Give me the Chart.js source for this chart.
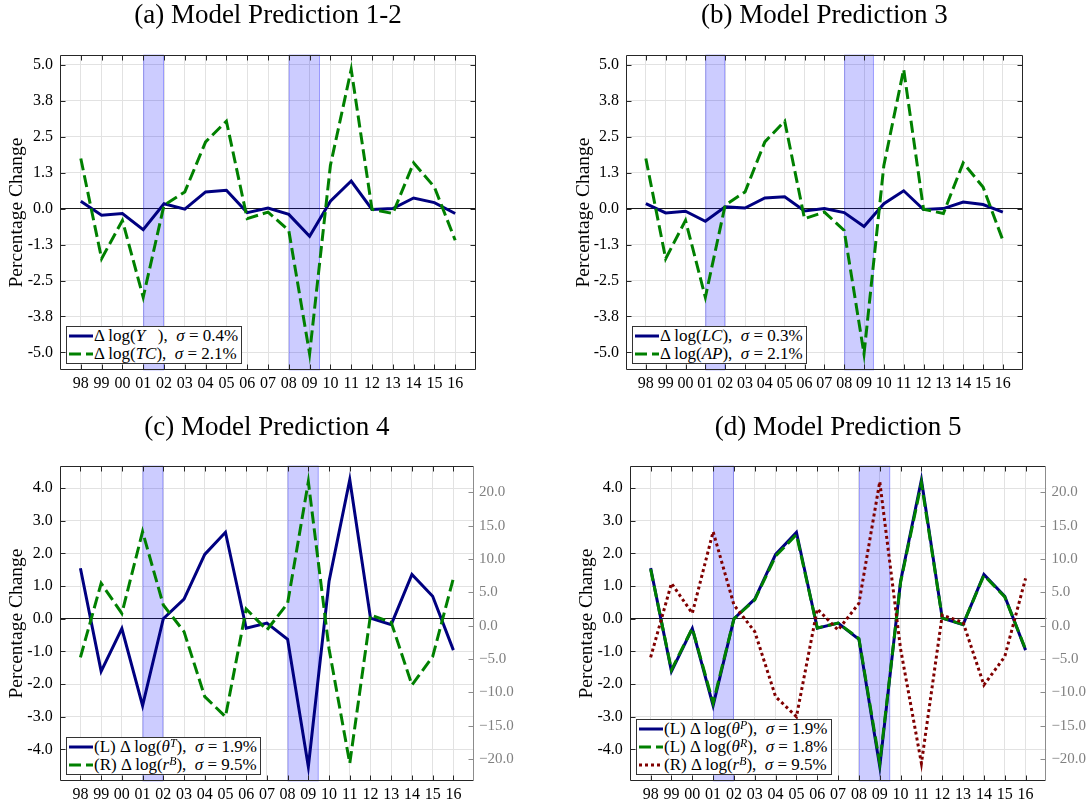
<!DOCTYPE html>
<html>
<head>
<meta charset="utf-8">
<script src="https://cdn.jsdelivr.net/npm/chart.js@4.4.1/dist/chart.umd.min.js"></script>
<style>
  html, body { margin: 0; padding: 0; background: #fff; }
  #fig { position: relative; width: 1088px; height: 805px; overflow: hidden; }
  #fig canvas { position: absolute; }
  .legend { position: absolute; background: #fff; border: 1px solid #333; padding: 0 3px 0 2px;
    font-family: 'Liberation Serif', serif; font-size: 17px; white-space: nowrap; color: #000; }
  .legend .row { display: flex; align-items: center; height: 18px; line-height: 18px; }
  .legend svg { margin-right: 1px; }
  .legend sup { font-size: 70%; line-height: 0; position: relative; top: -0.45em; vertical-align: baseline; }
</style>
</head>
<body>
<div id="fig">
  <canvas id="pa" width="544" height="402" style="left:0;top:0"></canvas>
  <canvas id="pb" width="544" height="402" style="left:544px;top:0"></canvas>
  <canvas id="pc" width="544" height="403" style="left:0;top:402px"></canvas>
  <canvas id="pd" width="544" height="403" style="left:544px;top:402px"></canvas>
</div>
<script>
// years on the x axis (1998 .. 2016)
const years = ['98','99','00','01','02','03','04','05','06','07','08','09','10','11','12','13','14','15','16'];
const firstYear = 1998;
// shaded recession periods
const recessions = [[2001, 2002], [2008, 2009.5]];

// (a)
const dlogY  = [0.26,-0.23,-0.17,-0.73,0.17,-0.02,0.58,0.64,-0.14,0.02,-0.20,-0.96,0.26,0.96,-0.03,0.00,0.37,0.21,-0.17];
const dlogTC = [1.74,-1.74,-0.41,-3.08,0.12,0.58,2.32,3.04,-0.35,-0.12,-0.76,-5.05,1.50,4.84,-0.02,-0.17,1.59,0.75,-1.10];
// (b)
const dlogLC = [0.17,-0.15,-0.09,-0.44,0.06,0.02,0.37,0.41,-0.08,0.00,-0.14,-0.62,0.17,0.62,-0.03,0.00,0.23,0.14,-0.12];
const dlogAP = [1.74,-1.74,-0.41,-3.08,0.12,0.58,2.32,3.04,-0.35,-0.12,-0.76,-5.05,1.50,4.84,-0.02,-0.17,1.59,0.75,-1.10];
// (c) and (d)
const dlogThetaT = [1.55,-1.61,-0.30,-2.66,0.00,0.60,1.97,2.65,-0.29,-0.13,-0.63,-4.53,1.15,4.26,0.02,-0.18,1.36,0.69,-0.96];
const dlogThetaP = [1.55,-1.61,-0.30,-2.66,0.00,0.60,1.97,2.65,-0.29,-0.13,-0.63,-4.53,1.15,4.26,0.02,-0.18,1.36,0.69,-0.96];
const dlogThetaR = [1.52,-1.57,-0.29,-2.58,0.00,0.58,1.92,2.58,-0.28,-0.13,-0.61,-4.43,1.12,4.16,0.02,-0.17,1.33,0.67,-0.94];
const dlogRB     = [-4.75,6.35,1.85,14.1,3.1,-0.9,-10.65,-13.65,2.5,-0.65,3.35,21.6,-3.5,-20.65,1.6,0.5,-8.9,-4.65,7.1];

const NAVY = '#000080', GREEN = '#008000', MAROON = '#800000';
const FONT = "'Liberation Serif', 'Times New Roman', serif";

const panels = [
  { id: 'pa', title: '(a) Model Prediction 1-2', titlePad: {top: 0, bottom: 22.6},
    pad: {left: 0, right: 68}, yWidth: 60, xHeight: 32,
    y: {min: -5.61, max: 5.34, step: 1.25},
    legend: {left: 66, top: 326},
    series: [
      {data: dlogY, color: NAVY, dash: [], label: 'Δ log(<i>Y</i>&nbsp;&nbsp;&nbsp;), &nbsp;<i>σ</i> = 0.4%'},
      {data: dlogTC, color: GREEN, dash: [12, 5], label: 'Δ log(<i>TC</i>), &nbsp;<i>σ</i> = 2.1%'}
    ]},
  { id: 'pb', title: '(b) Model Prediction 3', titlePad: {top: 0, bottom: 22.6},
    pad: {left: 23.5, right: 65.3}, yWidth: 58.5, xHeight: 32,
    y: {min: -5.61, max: 5.34, step: 1.25},
    legend: {left: 632, top: 326},
    series: [
      {data: dlogLC, color: NAVY, dash: [], label: 'Δ log(<i>LC</i>), &nbsp;<i>σ</i> = 0.3%'},
      {data: dlogAP, color: GREEN, dash: [12, 5], label: 'Δ log(<i>AP</i>), &nbsp;<i>σ</i> = 2.1%'}
    ]},
  { id: 'pc', title: '(c) Model Prediction 4', titlePad: {top: 9.8, bottom: 21.8},
    pad: {left: 0, right: 0}, yWidth: 59.7, xHeight: 24, y1Width: 69.9,
    y: {min: -4.97, max: 4.68, step: 1},
    y1: {min: -23.3, max: 23.95, step: 5},
    legend: {left: 66, top: 737},
    series: [
      {data: dlogThetaT, color: NAVY, dash: [], label: '(L) Δ log(<i>θ<sup>T</sup></i>), &nbsp;<i>σ</i> = 1.9%'},
      {data: dlogRB, color: GREEN, dash: [12, 5], axis: 'y1', label: '(R) Δ log(<i>r<sup>B</sup></i>), &nbsp;<i>σ</i> = 9.5%'}
    ]},
  { id: 'pd', title: '(d) Model Prediction 5', titlePad: {top: 9.8, bottom: 21.8},
    pad: {left: 26, right: 0}, yWidth: 59.8, xHeight: 24, y1Width: 41.6,
    y: {min: -4.97, max: 4.68, step: 1},
    y1: {min: -23.3, max: 23.95, step: 5},
    legend: {left: 636, top: 719},
    series: [
      {data: dlogThetaP, color: NAVY, dash: [], label: '(L) Δ log(<i>θ<sup>P</sup></i>), &nbsp;<i>σ</i> = 1.9%'},
      {data: dlogThetaR, color: GREEN, dash: [12, 5], label: '(L) Δ log(<i>θ<sup>R</sup></i>), &nbsp;<i>σ</i> = 1.8%'},
      {data: dlogRB, color: MAROON, dash: [3, 3], axis: 'y1', label: '(R) Δ log(<i>r<sup>B</sup></i>), &nbsp;<i>σ</i> = 9.5%'}
    ]}
];

// shaded recession bands, drawn under the lines
const bandPlugin = {
  id: 'bands',
  beforeDatasetsDraw(chart) {
    const {ctx, chartArea: a, scales: {x}} = chart;
    ctx.save();
    recessions.forEach(([s, e]) => {
      const x0 = x.getPixelForValue(s - firstYear);
      const x1 = x.getPixelForValue(e - firstYear);
      ctx.fillStyle = 'rgba(0,0,255,0.2)';
      ctx.fillRect(x0, a.top, x1 - x0, a.bottom - a.top);
      ctx.strokeStyle = 'rgba(0,0,255,0.25)';
      ctx.lineWidth = 1;
      ctx.strokeRect(x0 + 0.5, a.top, x1 - x0 - 1, a.bottom - a.top);
    });
    ctx.restore();
  }
};

// box around the axes with inward tick marks (matlab style)
const framePlugin = {
  id: 'frame',
  afterDatasetsDraw(chart) {
    const {ctx, chartArea: a, scales} = chart;
    const dual = !!scales.y1;
    const L = Math.round(a.left) + 0.5, R = Math.round(a.right) - 0.5;
    const T = Math.round(a.top) + 0.5, B = Math.round(a.bottom) - 0.5;
    const len = 5;
    ctx.save();
    ctx.lineWidth = 1;
    ctx.strokeStyle = '#262626';
    ctx.beginPath();
    scales.x.ticks.forEach(t => {
      if (t.value < 0 || t.value >= years.length) return;
      const px = Math.round(scales.x.getPixelForValue(t.value)) + 0.5;
      ctx.moveTo(px, B); ctx.lineTo(px, B - len);
      ctx.moveTo(px, T); ctx.lineTo(px, T + len);
    });
    scales.y.ticks.forEach(t => {
      const py = Math.round(scales.y.getPixelForValue(t.value)) + 0.5;
      ctx.moveTo(L, py); ctx.lineTo(L + len, py);
      if (!dual) { ctx.moveTo(R, py); ctx.lineTo(R - len, py); }
    });
    ctx.moveTo(L, B); ctx.lineTo(L, T); ctx.lineTo(R, T);
    ctx.moveTo(L, B); ctx.lineTo(R, B);
    if (!dual) { ctx.moveTo(R, T); ctx.lineTo(R, B); }
    ctx.stroke();
    if (dual) {
      ctx.strokeStyle = '#8c8c8c';
      ctx.beginPath();
      ctx.moveTo(R, T); ctx.lineTo(R, B);
      scales.y1.ticks.forEach(t => {
        const py = Math.round(scales.y1.getPixelForValue(t.value)) + 0.5;
        ctx.moveTo(R, py); ctx.lineTo(R - len, py);
      });
      ctx.stroke();
    }
    ctx.restore();
  }
};

function makePanel(p) {
  const n = p.series.length;
  const datasets = p.series.map((s, i) => ({
    data: years.map((_, k) => ({x: k, y: s.data[k]})),
    borderColor: s.color,
    borderWidth: 3,
    borderDash: s.dash,
    pointRadius: 0,
    tension: 0,
    fill: false,
    yAxisID: s.axis || 'y',
    order: n - i
  }));

  const scales = {
    x: {
      type: 'linear', min: -1, max: years.length,
      afterFit: s => { s.height = p.xHeight; },
      border: {display: false},
      grid: {
        drawTicks: false,
        color: c => (c.tick.value < 0 || c.tick.value >= years.length) ? 'rgba(0,0,0,0)' : '#e2e2e2'
      },
      ticks: {
        stepSize: 1, autoSkip: false, maxRotation: 0, includeBounds: false, padding: 4,
        color: '#000', font: {family: FONT, size: 16},
        callback: v => years[v] !== undefined ? years[v] : ''
      }
    },
    y: {
      type: 'linear', position: 'left', min: p.y.min, max: p.y.max,
      afterFit: s => { s.width = p.yWidth; },
      border: {display: false},
      grid: {drawTicks: false, color: c => c.tick.value === 0 ? '#1a1a1a' : '#e2e2e2'},
      ticks: {
        stepSize: p.y.step, includeBounds: false, padding: 7,
        color: '#000', font: {family: FONT, size: 16},
        callback: v => v.toFixed(1)
      },
      title: {display: true, text: 'Percentage Change', color: '#000',
        font: {family: FONT, size: 19.5}, padding: {top: 5, bottom: 0}}
    }
  };
  if (p.y1) {
    scales.y1 = {
      type: 'linear', position: 'right', min: p.y1.min, max: p.y1.max,
      afterFit: s => { s.width = p.y1Width; },
      border: {display: false},
      grid: {display: false, drawTicks: false},
      ticks: {
        stepSize: p.y1.step, includeBounds: false, padding: 5,
        color: '#808080', font: {family: FONT, size: 15},
        callback: v => v < 0 ? '\u2212' + (-v).toFixed(1) : v.toFixed(1)
      }
    };
  }

  new Chart(document.getElementById(p.id), {
    type: 'line',
    data: {datasets},
    options: {
      responsive: false,
      animation: false,
      layout: {padding: {left: p.pad.left, right: p.pad.right, top: 0, bottom: 0}},
      scales,
      plugins: {
        legend: {display: false},
        tooltip: {enabled: false},
        title: {display: true, text: p.title, fullSize: false, color: '#000',
          font: {family: FONT, size: 27, weight: 'normal'}, padding: p.titlePad}
      }
    },
    plugins: [bandPlugin, framePlugin]
  });

  // legend box with math-style labels
  const box = document.createElement('div');
  box.className = 'legend';
  box.style.left = p.legend.left + 'px';
  box.style.top = p.legend.top + 'px';
  p.series.forEach(s => {
    const row = document.createElement('div');
    row.className = 'row';
    const dash = s.dash.length ? ` stroke-dasharray="${s.dash.join(',')}"` : '';
    row.innerHTML = `<svg width="24" height="10"><line x1="0" y1="5" x2="24" y2="5" stroke="${s.color}" stroke-width="3"${dash}/></svg><span>${s.label}</span>`;
    box.appendChild(row);
  });
  document.getElementById('fig').appendChild(box);
}

panels.forEach(makePanel);
</script>
</body>
</html>
